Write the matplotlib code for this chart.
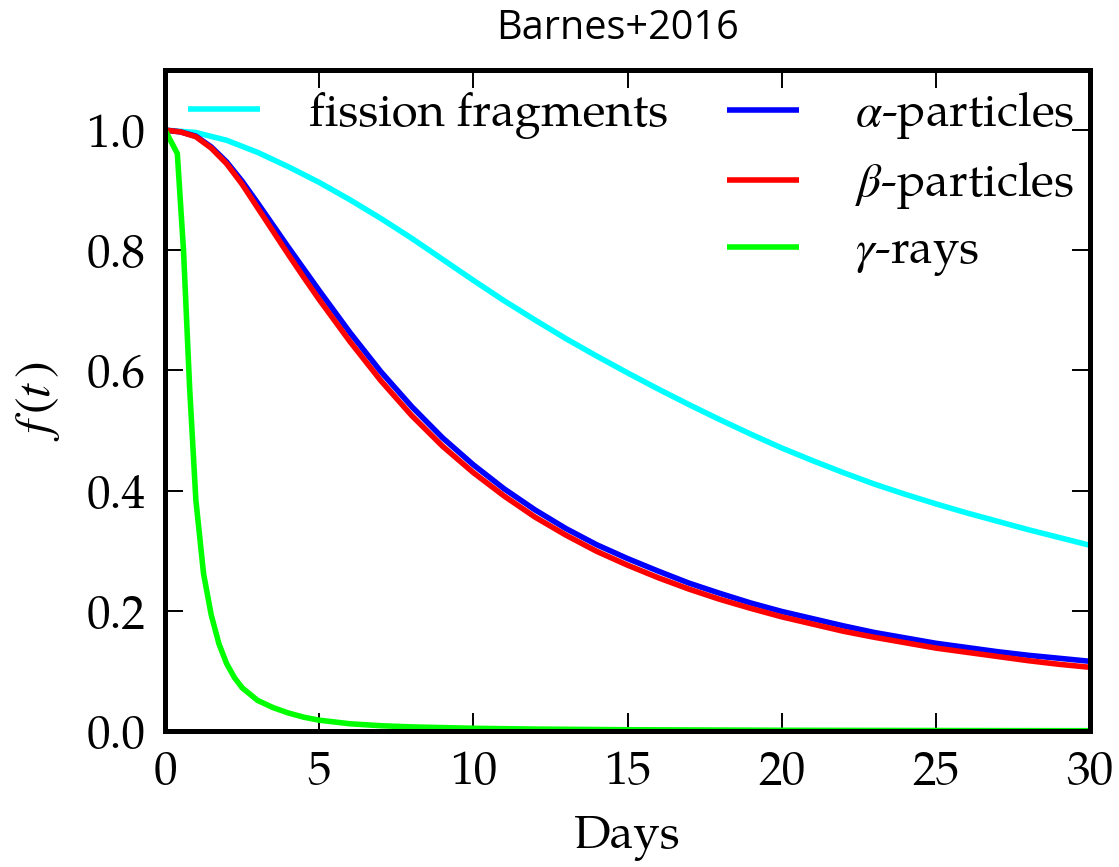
import matplotlib
matplotlib.use("Agg")
import matplotlib.pyplot as plt

# Thermalization efficiency f(t) versus time (days)
t_fission = [0, 1, 2, 3, 4, 5, 6, 7, 8, 9, 10, 11, 12, 13, 14, 15, 16, 17, 18, 19, 20,
             21, 22, 23, 24, 25, 26, 27, 28, 29, 30]
f_fission = [1.0, 0.996, 0.983, 0.963, 0.939, 0.913, 0.884, 0.853, 0.820, 0.785, 0.750,
             0.716, 0.684, 0.653, 0.624, 0.596, 0.569, 0.543, 0.518, 0.494, 0.471,
             0.450, 0.430, 0.411, 0.394, 0.378, 0.363, 0.349, 0.335, 0.322, 0.309]

t_alpha = [0, 0.5, 1, 1.5, 2, 2.5, 3, 3.5, 4, 4.5, 5, 6, 7, 8, 9, 10, 11, 12, 13, 14, 15,
           16, 17, 18, 19, 20, 21, 22, 23, 24, 25, 26, 27, 28, 29, 30]
f_alpha = [1.0, 0.997, 0.990, 0.972, 0.947, 0.915, 0.879, 0.842, 0.805, 0.769, 0.733,
           0.663, 0.598, 0.540, 0.488, 0.443, 0.403, 0.368, 0.337, 0.310, 0.287,
           0.266, 0.246, 0.229, 0.213, 0.199, 0.187, 0.175, 0.164, 0.155, 0.146,
           0.139, 0.132, 0.126, 0.121, 0.116]

t_beta = [0, 0.5, 1, 1.5, 2, 2.5, 3, 3.5, 4, 4.5, 5, 6, 7, 8, 9, 10, 11, 12, 13, 14, 15,
          16, 17, 18, 19, 20, 21, 22, 23, 24, 25, 26, 27, 28, 29, 30]
f_beta = [1.0, 0.997, 0.989, 0.970, 0.944, 0.910, 0.871, 0.832, 0.793, 0.755, 0.718,
          0.648, 0.583, 0.525, 0.474, 0.430, 0.391, 0.356, 0.326, 0.299, 0.276,
          0.255, 0.236, 0.219, 0.204, 0.190, 0.178, 0.166, 0.156, 0.147, 0.138,
          0.131, 0.124, 0.117, 0.111, 0.106]

t_gamma = [0, 0.4, 0.6, 0.8, 1.0, 1.25, 1.5, 1.75, 2.0, 2.25, 2.5, 3.0, 3.5, 4, 4.5, 5,
           6, 7, 8, 10, 12, 15, 20, 25, 30]
f_gamma = [1.0, 0.961, 0.80, 0.57, 0.385, 0.262, 0.193, 0.145, 0.112, 0.089, 0.072,
           0.051, 0.039, 0.030, 0.023, 0.018, 0.012, 0.0088, 0.0068, 0.0045, 0.0032,
           0.0021, 0.0012, 0.0008, 0.0005]

labels = ["fission fragments", r"$\alpha$-particles", r"$\beta$-particles", r"$\gamma$-rays"]
colors = ["#00FFFF", "#0000FF", "#FF0000", "#00FF00"]

x_ticks = [0, 5, 10, 15, 20, 25, 30]
y_ticks = [0.0, 0.2, 0.4, 0.6, 0.8, 1.0]

plt.rcParams["font.family"] = ["P052", "TeX Gyre Pagella", "Palatino Linotype", "Liberation Serif"]
plt.rcParams["mathtext.fontset"] = "stix"

FS = 34

fig = plt.figure(figsize=(11.19, 8.67), dpi=100)
ax = fig.add_axes([165 / 1119, 1 - 731 / 867, 925 / 1119, 661 / 867])

lines = []
for t, f, c in zip([t_fission, t_alpha, t_beta, t_gamma],
                   [f_fission, f_alpha, f_beta, f_gamma], colors):
    ln, = ax.plot(t, f, color=c, lw=4, solid_capstyle="butt", solid_joinstyle="round")
    lines.append(ln)

ax.set_xlim(0, 30)
ax.set_ylim(0, 1.1)
ax.set_xticks(x_ticks)
ax.set_yticks(y_ticks)
ax.set_xticklabels([str(v) for v in x_ticks])
ax.set_yticklabels([f"{v:.1f}" for v in y_ticks])
ax.tick_params(direction="in", length=13, width=1.4, top=True, right=True,
               labelsize=FS, pad=14)
for sp in ax.spines.values():
    sp.set_linewidth(3.6)

ax.set_xlabel("Days", fontsize=FS, labelpad=12)
ax.set_ylabel(r"$f\,(t\,)$", fontsize=36, labelpad=16)
ax.set_title("Barnes+2016", fontsize=28.5, pad=22, x=0.489, family=["Open Sans"])

leg_kw = dict(frameon=False, fontsize=FS, handlelength=1.52,
              labelspacing=0.38, borderpad=0, borderaxespad=0, loc="upper left")
leg1 = ax.legend([lines[0]], [labels[0]], bbox_to_anchor=(0.025, 0.967),
                 handletextpad=1.05, **leg_kw)
ax.add_artist(leg1)
ax.legend(lines[1:], labels[1:], bbox_to_anchor=(0.6076, 0.971),
          handletextpad=1.2, **leg_kw)

fig.savefig("out.png", dpi=100)
